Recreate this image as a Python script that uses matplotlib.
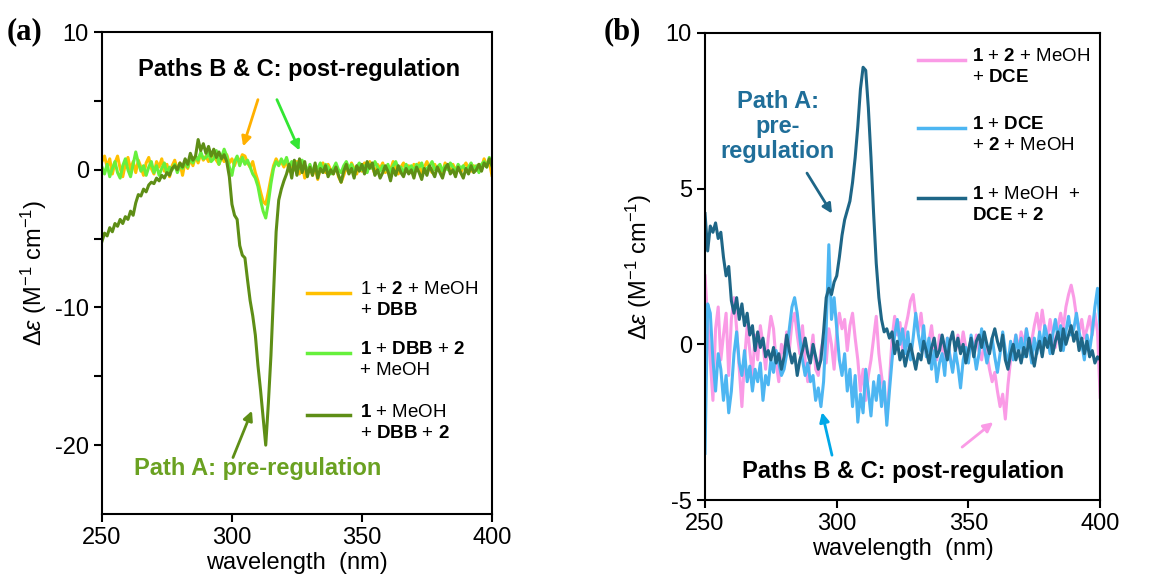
import numpy as np
import matplotlib
matplotlib.use("Agg")
import matplotlib.pyplot as plt

plt.rcParams["font.family"] = ["Liberation Sans", "DejaVu Sans"]
plt.rcParams["mathtext.fontset"] = "custom"
plt.rcParams["mathtext.rm"] = "Liberation Sans"
plt.rcParams["mathtext.it"] = "Liberation Sans:italic"
plt.rcParams["mathtext.bf"] = "Liberation Sans:bold"
plt.rcParams["axes.unicode_minus"] = False

# ----------------------------------------------------------------------
# Data (1 nm step, 250-400 nm)
# ----------------------------------------------------------------------
wavelength = np.arange(250, 401, 1)

# panel (a): DBB series
dbb_orange = [
    0.6, 1.0, 0.2, 0.8, -0.3, 0.5, 1.0, 0.1, -0.5, 0.4,
    0.9, 0.0, 0.6, -0.2, 0.7, 0.2, -0.4, 0.5, 0.9, 0.1,
    -0.3, 0.6, 0.2, 0.8, -0.1, 0.4, -0.5, 0.3, 0.7, 0.0,
    0.5, -0.4, 0.6, 0.1, 0.8, 0.3, 1.0, 0.5, 1.2, 0.7,
    1.0, 0.6, 0.9, 1.3, 0.7, 0.4, 1.0, 0.6, 1.1, 0.5,
    0.8, 0.3, 0.9, 0.6, 1.1, 1.0, 0.5, 0.2, 0.6, -0.2,
    -0.8, -1.6, -2.3, -2.5, -1.6, -0.6, 0.3, 0.8, 0.4, 0.6,
    0.2, 0.7, -0.1, 0.5, 0.0, 0.6, -0.3, 0.4, -0.6, -0.2,
    0.3, -0.4, 0.2, -0.7, 0.1, 0.5, -0.2, 0.4, 0.0, -0.3,
    0.3, -0.5, -0.9, -0.4, 0.2, -0.2, 0.5, 0.1, -0.3, 0.4,
    -0.1, 0.5, 0.0, 0.6, 0.2, -0.3, 0.4, 0.1, 0.5, -0.2,
    0.3, 0.0, 0.6, 0.1, -0.3, 0.2, 0.5, -0.1, 0.3, -0.2,
    0.4, 0.0, 0.5, -0.3, 0.2, 0.6, 0.1, -0.2, 0.4, 0.0,
    0.3, -0.2, 0.5, 0.1, -0.1, 0.4, 0.0, 0.3, -0.2, 0.2,
    0.5, 0.1, -0.1, 0.3, 0.0, 0.4, 0.2, 0.8, 0.3, 0.6,
    -0.4,
]
dbb_light = [
    0.2, -0.3, 0.4, -0.5, 0.1, 0.6, -0.2, -0.6, 0.3, 0.8,
    0.0, -0.5, 0.4, 1.3, 0.5, -0.1, 0.3, -0.4, 0.2, 0.6,
    -0.2, 0.3, -0.4, 0.1, 0.5, -0.3, 0.2, 0.0, 0.4, -0.2,
    0.3, 0.1, 0.6, 0.2, 0.9, 0.5, 1.0, 0.7, 1.3, 0.8,
    0.9, 1.2, 0.6, 0.8, 1.4, 0.4, 0.9, 1.5, 1.0, 0.2,
    -0.4, 0.6, 1.0, 0.3, 0.9, 0.4, 0.7, 0.2, -0.3, -0.6,
    -1.2, -2.2, -3.0, -3.5, -2.4, -1.0, 0.1, 0.6, 0.3, 0.8,
    0.4, 0.9, 0.2, 0.6, 0.0, 0.5, 0.1, 0.7, 0.2, -0.1,
    0.4, -0.2, 0.3, 0.1, 0.5, -0.1, 0.4, 0.2, -0.3, 0.1,
    0.5, 0.0, -0.2, 0.3, 0.6, 0.1, 0.4, -0.1, 0.2, 0.5,
    0.0, 0.3, -0.2, 0.4, 0.1, 0.6, 0.2, -0.1, 0.3, 0.0,
    0.4, -0.2, 0.3, 0.6, 0.1, 0.2, -0.3, 0.4, 0.0, 0.3,
    -0.1, 0.4, 0.2, 0.5, -0.2, 0.1, 0.3, 0.6, 0.0, 0.2,
    0.4, -0.1, 0.3, 0.0, 0.5, 0.2, -0.2, 0.4, 0.1, 0.3,
    -0.1, 0.2, 0.5, 0.0, 0.3, -0.2, 0.4, 0.6, 0.2, 0.9,
    0.3,
]
dbb_dark = [
    -5.2, -4.6, -4.8, -4.2, -4.5, -3.9, -4.1, -3.6, -3.9, -3.4,
    -3.6, -3.0, -3.3, -2.4, -1.8, -1.9, -1.4, -1.6, -1.1, -0.9,
    -1.0, -0.6, -0.8, -0.4, -0.6, -0.2, -0.4, 0.1, 0.3, 0.0,
    0.5, 0.2, 0.8, 0.4, 1.2, 0.7, 1.0, 2.2, 1.4, 1.9,
    1.2, 1.7, 1.0, 1.5, 0.9, 1.3, 0.8, 1.1, 0.6, -0.5,
    -2.5, -3.3, -3.6, -5.5, -6.2, -6.4, -8.0, -9.5, -10.6, -12.0,
    -14.2, -16.0, -18.0, -20.0, -17.0, -13.5, -9.0, -4.5, -2.2, -1.4,
    -0.8, -0.3, 0.4, -0.6, 0.7, -0.4, 0.8, -0.2, 0.6, -0.5,
    0.2, -0.4, 0.5, -0.6, 0.1, -0.2, 0.3, -0.5, 0.0, -0.3,
    0.2, -0.4, -0.9, -0.1, 0.4, -0.3, 0.1, -0.6, 0.3, -0.1,
    0.4, -0.3, 0.6, 0.1, 0.5, -0.4, 0.0, -0.6, -0.2, 0.3,
    -0.1, -0.8, 0.1, -0.4, 0.3, -0.2, -0.5, 0.1, -0.3, 0.0,
    -0.6, 0.2, -0.2, -0.7, 0.1, -0.4, 0.3, -0.1, -0.5, 0.2,
    -0.2, -0.6, 0.1, 0.4, -0.3, 0.0, -0.5, 0.2, -0.2, -0.6,
    0.1, -0.3, 0.3, -0.2, 0.0, 0.4, -0.1, 0.5, 0.2, 0.8,
    0.3,
]

# panel (b): DCE series
dce_pink = [
    2.2, 0.8, -0.5, -1.8, 0.5, 1.2, -0.5, 0.3, 1.0, -1.0,
    0.8, 1.5, 0.5, -0.8, -2.0, -0.5, 0.6, -0.2, -1.0, 0.3,
    -0.5, 0.6, 0.0, -0.8, 0.2, 0.9, 0.5, -0.6, -1.2, 0.0,
    -0.3, 0.4, -0.2, 0.7, 1.0, 0.3, -0.3, 0.6, -0.5, -1.2,
    -0.4, 0.3, -0.8, -1.0, -0.2, 0.2, -0.6, 0.5, 0.0, -0.8,
    0.4, 1.0, 0.5, 0.8, -0.2, 0.6, 1.0, 0.2, -0.5, -1.5,
    -0.8, -1.8, -1.0, -0.5, 0.2, 0.9, -0.3, -1.0, -1.6, -2.4,
    -1.2, 0.2, 0.9, 0.3, 0.7, -0.2, 0.5, 0.9, 1.4, 1.6,
    0.9, 0.4, 1.0, 0.2, -0.3, 0.1, 0.6, -0.2, -0.5, 0.3,
    -0.1, -0.6, 0.2, -0.4, -0.8, -0.3, 0.3, -0.2, 0.4, -0.1,
    -0.4, 0.2, -0.3, 0.3, -0.2, -0.5, 0.1, -0.3, -0.8, -1.2,
    -0.9, -1.5, -2.0, -1.6, -2.4, -1.3, -0.5, -0.1, 0.3, -0.2,
    0.4, 0.0, 0.5, -0.2, 0.1, 0.6, 1.0, 0.4, 1.1, 0.5,
    0.2, 0.8, 0.3, -0.1, 0.6, 1.0, 0.5, 1.2, 1.6, 1.9,
    1.5, 0.9, 0.4, 0.8, 0.2, 0.5, 0.9, 0.3, 1.0, 0.4,
    -1.7,
]
dce_light = [
    -3.5, 1.3, 1.0, -0.5, -1.5, -0.3, -0.8, -1.8, -1.0, -2.2,
    -1.5, -0.3, 0.4, -0.6, -1.0, -0.2, -1.2, -0.7, -1.5, -0.8,
    -1.2, -0.6, -1.8, -1.0, -1.3, -0.5, -0.9, -0.2, -0.6, -1.0,
    -0.8, -0.3, 0.5, 1.2, 1.5, 1.0, 0.2, -0.5, -1.0, -0.6,
    -1.2, -1.0, -1.8, -1.4, -2.0, -1.2, 0.5, 3.2, 0.8, 1.5,
    0.5, -0.5, -1.0, -0.3, -1.5, -0.8, -2.0, -1.0, -2.5, -1.6,
    -2.2, -0.8, -1.5, -2.3, -1.2, -1.8, -1.0, -2.0, -1.2, -2.6,
    -1.5, -0.5, 0.3, 0.8, 0.0, 0.5, -0.3, 0.4, -0.5, 0.2,
    1.0, 0.3, -0.2, 0.6, -0.4, 0.2, -0.8, -0.2, -1.2, -0.6,
    -0.3, -1.0, 0.2, -0.4, -0.9, -0.2, -0.7, -1.4, -0.5, -0.1,
    -0.6, 0.3, -0.2, -0.8, -0.3, 0.5, -0.1, -0.6, -0.2, 0.2,
    -0.4, -0.9, -0.3, 0.4, -0.2, -0.7, 0.1, -0.5, 0.3, -0.3,
    0.2, -0.4, 0.5, 0.0, -0.6, 0.2, -0.3, 0.4, -0.1, 0.6,
    0.2, -0.3, 0.3, 0.8, 0.2, 0.6, -0.2, 0.4, 0.9, 0.3,
    0.5, 1.0, 0.4, 0.0, -0.5, 0.3, -0.2, 0.4, 1.2, 1.8,
    0.5,
]
dce_dark = [
    4.2, 3.0, 3.8, 3.6, 3.9, 3.4, 3.6, 2.8, 2.2, 2.5,
    1.4, 1.0, 1.5, 0.8, 1.3, 0.6, 1.0, 0.3, 0.6, -0.2,
    0.4, -0.1, 0.2, -0.4, -0.2, -0.5, -0.1, -0.6, -0.3, -0.8,
    -0.4, 0.3, -0.2, -0.6, -0.3, -1.0, -0.5, -0.2, 0.2, -0.3,
    -0.6, 0.0, -0.4, -0.8, -0.5, 0.4, 1.5, 1.8, 1.6, 2.0,
    2.2, 2.8, 3.5, 4.0, 4.3, 4.6, 5.2, 6.0, 7.0, 8.2,
    8.9, 8.8, 7.6, 6.0, 4.2, 2.6, 1.5, 0.8, 0.4, 0.5,
    0.2, 0.4, -0.3, 0.1, -0.5, -0.2, -0.7, -0.3, 0.0, -0.4,
    -0.8, -0.3, -0.5, 0.1, -0.2, -0.6, -0.1, 0.2, -0.4, -0.2,
    0.3, -0.1, -0.5, 0.1, 0.4, -0.2, 0.2, -0.3, 0.0, -0.6,
    -0.2, 0.2, -0.4, 0.1, 0.3, -0.1, 0.4, 0.0, -0.3, 0.2,
    0.5, 0.1, -0.2, 0.3, -0.5, -0.8, -0.3, 0.0, -0.5, -0.2,
    -0.6, -0.1, -0.4, 0.2, -0.3, -0.7, -0.2, 0.1, -0.4, 0.2,
    -0.1, 0.3, -0.3, 0.1, 0.4, -0.2, 0.5, 0.0, 0.3, 0.6,
    0.1, 0.4, -0.2, 0.2, -0.3, 0.1, -0.4, -0.2, -0.6, -0.4,
    -0.5,
]

labels_a = [
    "1 + $\\mathbf{2}$ + MeOH\n+ $\\mathbf{DBB}$",
    "$\\mathbf{1}$ + $\\mathbf{DBB}$ + $\\mathbf{2}$\n+ MeOH",
    "$\\mathbf{1}$ + MeOH\n+ $\\mathbf{DBB}$ + $\\mathbf{2}$",
]
labels_b = [
    "$\\mathbf{1}$ + $\\mathbf{2}$ + MeOH\n+ $\\mathbf{DCE}$",
    "$\\mathbf{1}$ + $\\mathbf{DCE}$\n+ $\\mathbf{2}$ + MeOH",
    "$\\mathbf{1}$ + MeOH  +\n$\\mathbf{DCE}$ + $\\mathbf{2}$",
]

colors_a = ["#FFC000", "#66F03C", "#5E8E16"]
colors_b = ["#FA9BE6", "#4DB6F2", "#1E6687"]

YLABEL = "$\\Delta\\varepsilon$ (M$^{-1}$ cm$^{-1}$)"
XLABEL = "wavelength  (nm)"
NOTE_SIZE = 17


def style_axes(ax, ylim, major, minor):
    ax.set_xlim(250, 400)
    ax.set_ylim(*ylim)
    ax.set_xticks([250, 300, 350, 400])
    ax.set_yticks(major)
    ax.set_yticks(minor, minor=True)
    ax.tick_params(which="both", direction="out", length=6, width=1.5,
                   labelsize=17, top=False, right=False)
    for sp in ax.spines.values():
        sp.set_linewidth(1.5)
    ax.set_xlabel(XLABEL, fontsize=17, labelpad=2)


def manual_legend(ax, colors, labels, x0, x1, xt, ys, dy):
    # legend drawn by hand so the line sits on the first text line
    for c, lab, y in zip(colors, labels, ys):
        ax.plot([x0, x1], [y, y], color=c, lw=2.5, transform=ax.transAxes,
                clip_on=False)
        ax.text(xt, y + dy, lab, transform=ax.transAxes, fontsize=13.5,
                va="top", ha="left", linespacing=1.3)


def arrow(ax, start, end, color):
    ax.annotate("", xy=end, xytext=start,
                arrowprops=dict(arrowstyle="-|>", color=color, lw=2,
                                mutation_scale=14, shrinkA=0, shrinkB=0))


fig = plt.figure(figsize=(11.52, 5.84), dpi=100)
ax_a = fig.add_axes([0.0885, 0.1199, 0.3385, 0.825])
ax_b = fig.add_axes([0.612, 0.1438, 0.343, 0.7997])

# ---------------- panel (a) ----------------
for series, c in zip([dbb_orange, dbb_light, dbb_dark], colors_a):
    ax_a.plot(wavelength, series, color=c, lw=2.2)
style_axes(ax_a, (-25, 10), [-20, -10, 0, 10], [-15, -5, 5])
ax_a.set_ylabel(YLABEL, fontsize=17, labelpad=4)

manual_legend(ax_a, colors_a, labels_a, 0.526, 0.636, 0.662,
              [0.459, 0.334, 0.205], 0.024)

ax_a.text(326, 7.3, "Paths B & C: post-regulation", fontsize=NOTE_SIZE,
          fontweight="bold", ha="center", va="center")
arrow(ax_a, (310, 5.1), (304.3, 1.7), "#FFB000")
arrow(ax_a, (317.3, 5.1), (326, 1.4), "#33E633")
ax_a.text(310, -21.7, "Path A: pre-regulation", fontsize=NOTE_SIZE,
          fontweight="bold", ha="center", va="center", color="#6AA121")
arrow(ax_a, (300.4, -20.9), (307.7, -17.5), "#5E8E16")

# ---------------- panel (b) ----------------
for series, c in zip([dce_pink, dce_light, dce_dark], colors_b):
    ax_b.plot(wavelength, series, color=c, lw=2.2)
style_axes(ax_b, (-5, 10), [-5, 0, 5, 10], [])
ax_b.set_ylabel(YLABEL, fontsize=17, labelpad=8)

manual_legend(ax_b, colors_b, labels_b, 0.539, 0.658, 0.676,
              [0.942, 0.797, 0.647], 0.025)

ax_b.text(277.7, 7.0, "Path A:\npre-\nregulation", fontsize=NOTE_SIZE,
          fontweight="bold", ha="center", va="center", color="#1F6E99",
          linespacing=1.1)
arrow(ax_b, (288.7, 5.5), (298.2, 4.2), "#1E6687")
ax_b.text(325.2, -4.1, "Paths B & C: post-regulation", fontsize=NOTE_SIZE,
          fontweight="bold", ha="center", va="center")
arrow(ax_b, (298.2, -3.56), (294.4, -2.18), "#00A8E8")
arrow(ax_b, (347.6, -3.3), (359.4, -2.5), "#FA9BE6")

# panel letters
fig.text(0.006, 0.945, "(a)", fontsize=22, fontweight="bold",
         family="Liberation Serif", va="center")
fig.text(0.524, 0.945, "(b)", fontsize=22, fontweight="bold",
         family="Liberation Serif", va="center")

fig.savefig("out.png", dpi=100)
